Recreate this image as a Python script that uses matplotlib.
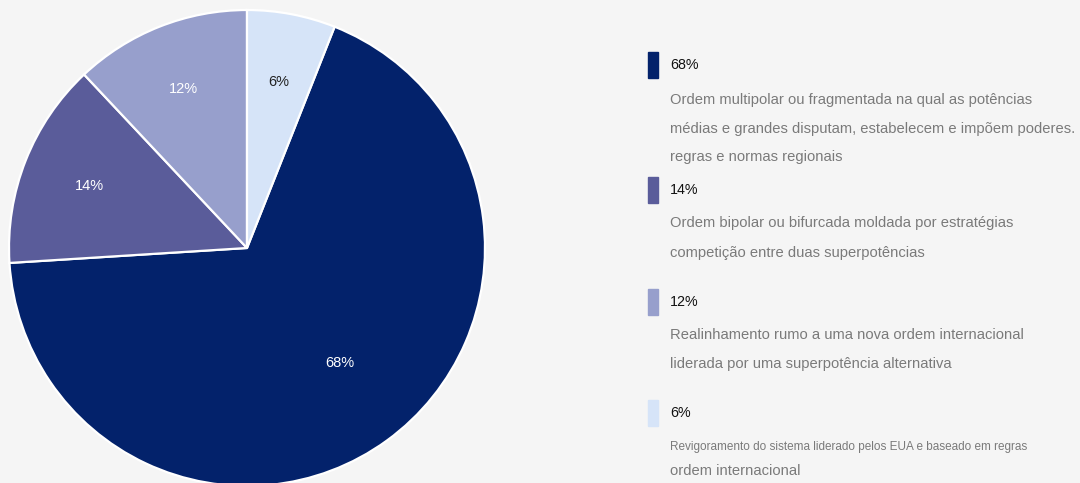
import matplotlib
matplotlib.use('Agg')
import matplotlib.pyplot as plt
import numpy as np

plt.rcParams['font.family'] = ['Liberation Sans', 'DejaVu Sans']

# Shares of each scenario
shares = [68, 14, 12, 6]
pct_labels = ['68%', '14%', '12%', '6%']
colors = ['#03226b', '#5a5c9a', '#979fcc', '#d6e4f8']
label_colors = ['white', 'white', 'white', '#222222']
label_dist = [0.62, 0.71, 0.72, 0.71]

descriptions = [
    ['Ordem multipolar ou fragmentada na qual as potências',
     'médias e grandes disputam, estabelecem e impõem poderes.',
     'regras e normas regionais'],
    ['Ordem bipolar ou bifurcada moldada por estratégias',
     'competição entre duas superpotências'],
    ['Realinhamento rumo a uma nova ordem internacional',
     'liderada por uma superpotência alternativa'],
    ['Revigoramento do sistema liderado pelos EUA e baseado em regras',
     'ordem internacional'],
]
desc_sizes = [[10.6, 10.6, 10.6], [10.6, 10.6], [10.6, 10.6], [8.5, 10.6]]

W, H = 1080, 483
fig = plt.figure(figsize=(W / 100, H / 100), dpi=100)
fig.patch.set_facecolor('#f5f5f5')

# pie axes, centre (247, 248) px, radius 238 px
cx, cy, r = 247, 248, 238
ax = fig.add_axes([(cx - r) / W, (H - cy - r) / H, 2 * r / W, 2 * r / H])
start = 90 - shares[3] * 3.6
wedges, _ = ax.pie(shares, colors=colors, startangle=start, counterclock=False,
                   radius=1, wedgeprops=dict(edgecolor='white', linewidth=1.6))
for k, (w, lab, col, d) in enumerate(zip(wedges, pct_labels, label_colors, label_dist)):
    mid = (w.theta1 + w.theta2) / 2
    if k == 0:
        mid += 3  # big slice label sits a little off its mid-line
    mid = np.deg2rad(mid)
    ax.text(d * np.cos(mid), d * np.sin(mid), lab, color=col, fontsize=10.5,
            ha='center', va='center')
ax.set_xlim(-1, 1)
ax.set_ylim(-1, 1)
ax.set_aspect('equal')
ax.axis('off')

# legend drawn on a pixel-coordinate overlay
lg = fig.add_axes([0, 0, 1, 1])
lg.set_xlim(0, W)
lg.set_ylim(H, 0)
lg.axis('off')

header_y = [65, 190, 302, 413]
line_y = [[100, 129, 157], [223, 253], [335, 364], [447, 471]]
for i in range(len(shares)):
    lg.add_patch(plt.Rectangle((648, header_y[i] - 13), 10, 26, color=colors[i]))
    lg.text(670, header_y[i], pct_labels[i], fontsize=10.3, color='#111111',
            va='center', ha='left')
    for txt, y, fs in zip(descriptions[i], line_y[i], desc_sizes[i]):
        lg.text(670, y, txt, fontsize=fs, color='#7a7a7a', va='center', ha='left')

fig.savefig('out.png', dpi=100, facecolor=fig.get_facecolor())
